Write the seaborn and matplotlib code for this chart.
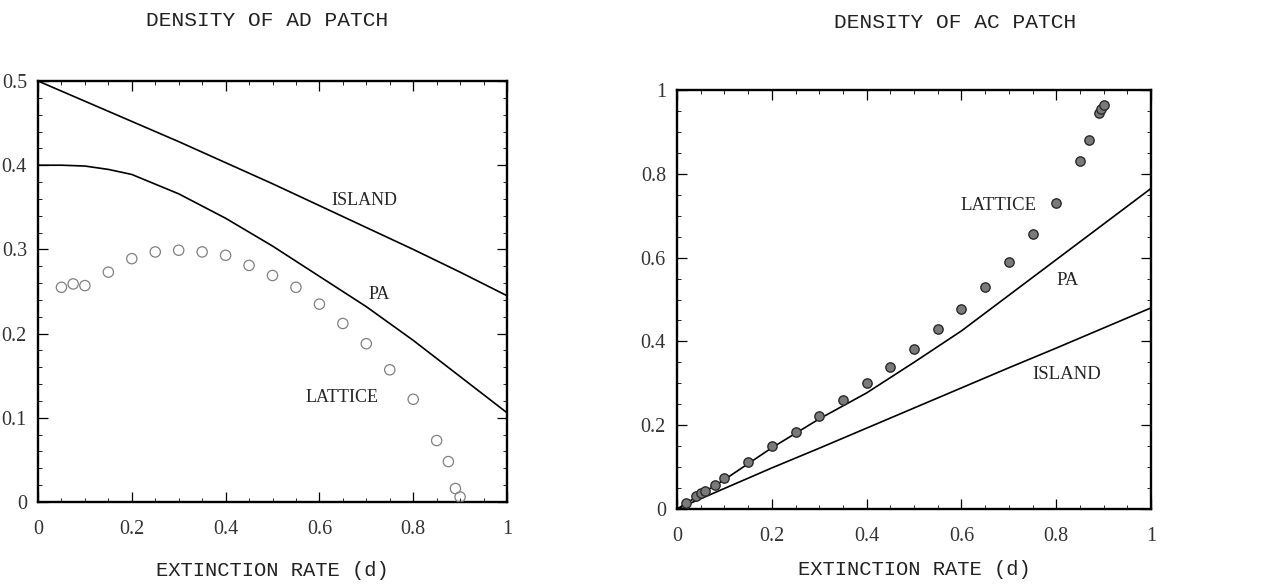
import matplotlib
matplotlib.use("Agg")
import matplotlib.pyplot as plt
import seaborn as sns
import pandas as pd
from matplotlib.ticker import MultipleLocator, FixedLocator, FixedFormatter

# ---------------- data ----------------
# Left panel: density of AD patch
ad_d_curve = [0.0, 0.05, 0.1, 0.15, 0.2, 0.3, 0.4, 0.5, 0.6, 0.7, 0.8, 0.9, 1.0]
ad_island = [0.500, 0.488, 0.476, 0.464, 0.452, 0.428, 0.403, 0.378, 0.352, 0.326, 0.300, 0.273, 0.245]
ad_pa = [0.400, 0.400, 0.399, 0.395, 0.389, 0.366, 0.337, 0.304, 0.268, 0.232, 0.192, 0.149, 0.106]
ad_lattice_d = [0.05, 0.075, 0.1, 0.15, 0.2, 0.25, 0.3, 0.35, 0.4, 0.45, 0.5,
                0.55, 0.6, 0.65, 0.7, 0.75, 0.8, 0.85, 0.875, 0.89, 0.9]
ad_lattice = [0.255, 0.259, 0.257, 0.273, 0.289, 0.297, 0.299, 0.297, 0.293, 0.281, 0.269,
              0.255, 0.235, 0.212, 0.188, 0.157, 0.122, 0.073, 0.048, 0.016, 0.006]

# Right panel: density of AC patch
ac_d_curve = [0.0, 0.1, 0.2, 0.3, 0.4, 0.5, 0.6, 0.7, 0.8, 0.9, 1.0]
ac_island = [0.0, 0.049, 0.098, 0.145, 0.193, 0.241, 0.289, 0.337, 0.384, 0.432, 0.480]
ac_pa = [0.0, 0.070, 0.146, 0.215, 0.277, 0.350, 0.425, 0.510, 0.595, 0.680, 0.765]
ac_lattice_d = [0.02, 0.04, 0.05, 0.06, 0.08, 0.1, 0.15, 0.2, 0.25, 0.3, 0.35, 0.4, 0.45,
                0.5, 0.55, 0.6, 0.65, 0.7, 0.75, 0.8, 0.85, 0.87, 0.89, 0.895, 0.9]
ac_lattice = [0.015, 0.030, 0.038, 0.042, 0.058, 0.074, 0.112, 0.150, 0.184, 0.221, 0.259,
              0.301, 0.340, 0.383, 0.430, 0.478, 0.531, 0.589, 0.657, 0.730, 0.830,
              0.881, 0.945, 0.955, 0.965]

x_ticks = [0, 0.2, 0.4, 0.6, 0.8, 1.0]
x_tick_labels = ["0", "0.2", "0.4", "0.6", "0.8", "1"]
ad_y_ticks = [0, 0.1, 0.2, 0.3, 0.4, 0.5]
ad_y_tick_labels = ["0", "0.1", "0.2", "0.3", "0.4", "0.5"]
ac_y_ticks = [0, 0.2, 0.4, 0.6, 0.8, 1.0]
ac_y_tick_labels = ["0", "0.2", "0.4", "0.6", "0.8", "1"]

titles = ["DENSITY OF AD PATCH", "DENSITY OF AC PATCH"]
x_label = "EXTINCTION RATE (d)"

# ---------------- style ----------------
sns.set_style("ticks")
plt.rcParams["font.family"] = ["Liberation Serif", "DejaVu Serif"]

fig = plt.figure(figsize=(12.74, 5.87), dpi=100)
ax1 = fig.add_axes([38 / 1274, 1 - 502 / 587, 469 / 1274, 421 / 587])
ax2 = fig.add_axes([677 / 1274, 1 - 509 / 587, 474 / 1274, 419 / 587])

mono = ["Liberation Mono", "DejaVu Sans Mono"]
tick_col = "#333333"


def style_axes(ax, yt, ytl, ymax, yminor, xlabelpad):
    ax.set_xlim(0, 1)
    ax.set_ylim(0, ymax)
    ax.xaxis.set_major_locator(FixedLocator(x_ticks))
    ax.xaxis.set_major_formatter(FixedFormatter(x_tick_labels))
    ax.yaxis.set_major_locator(FixedLocator(yt))
    ax.yaxis.set_major_formatter(FixedFormatter(ytl))
    ax.xaxis.set_minor_locator(MultipleLocator(0.05))
    ax.yaxis.set_minor_locator(MultipleLocator(yminor))
    ax.tick_params(which="both", direction="in", top=True, right=True,
                   color="black")
    ax.tick_params(which="major", length=7, width=0.9, labelsize=14.5,
                   labelcolor=tick_col)
    ax.tick_params(axis="x", which="major", pad=13)
    ax.tick_params(axis="y", which="major", pad=8)
    ax.tick_params(which="minor", length=3, width=0.6)
    for sp in ax.spines.values():
        sp.set_linewidth(1.7)
        sp.set_color("black")
    ax.set_xlabel(x_label, family=mono, fontsize=14.8, color="#222222",
                  labelpad=xlabelpad)
    ax.set_ylabel("")
    for lab in ax.get_xticklabels() + ax.get_yticklabels():
        lab.set_family(["Liberation Serif", "DejaVu Serif"])


# Left panel
df_ad_curve = pd.DataFrame({"d": ad_d_curve, "island": ad_island, "pa": ad_pa})
df_ad_lat = pd.DataFrame({"d": ad_lattice_d, "lattice": ad_lattice})
sns.lineplot(data=df_ad_curve, x="d", y="island", ax=ax1, color="black", lw=1.2)
sns.lineplot(data=df_ad_curve, x="d", y="pa", ax=ax1, color="black", lw=1.2)
sns.scatterplot(data=df_ad_lat, x="d", y="lattice", ax=ax1, s=55,
                facecolor="none", edgecolor="#808080", linewidth=0.9, zorder=3)
style_axes(ax1, ad_y_ticks, ad_y_tick_labels, 0.5, 0.02, 16)
ax1.text(0.696, 0.358, "ISLAND", fontsize=13, ha="center", va="center")
ax1.text(0.727, 0.246, "PA", fontsize=13, ha="center", va="center")
ax1.text(0.649, 0.124, "LATTICE", fontsize=13, ha="center", va="center")

# Right panel
df_ac_curve = pd.DataFrame({"d": ac_d_curve, "island": ac_island, "pa": ac_pa})
df_ac_lat = pd.DataFrame({"d": ac_lattice_d, "lattice": ac_lattice})
sns.lineplot(data=df_ac_curve, x="d", y="island", ax=ax2, color="black", lw=1.2)
sns.lineplot(data=df_ac_curve, x="d", y="pa", ax=ax2, color="black", lw=1.2)
sns.scatterplot(data=df_ac_lat, x="d", y="lattice", ax=ax2, s=45,
                color="#7a7a7a", edgecolor="#2a2a2a", linewidth=1.0, zorder=3)
style_axes(ax2, ac_y_ticks, ac_y_tick_labels, 1.0, 0.05, 10)
ax2.text(0.679, 0.725, "LATTICE", fontsize=13.5, ha="center", va="center")
ax2.text(0.823, 0.546, "PA", fontsize=13.5, ha="center", va="center")
ax2.text(0.823, 0.320, "ISLAND", fontsize=13.5, ha="center", va="center")

fig.text(267 / 1274, 1 - 21 / 587, titles[0], family=mono, fontsize=15.3,
         ha="center", va="center", color="#222222")
fig.text(955 / 1274, 1 - 23 / 587, titles[1], family=mono, fontsize=15.3,
         ha="center", va="center", color="#222222")

fig.savefig("out.png", dpi=100)
